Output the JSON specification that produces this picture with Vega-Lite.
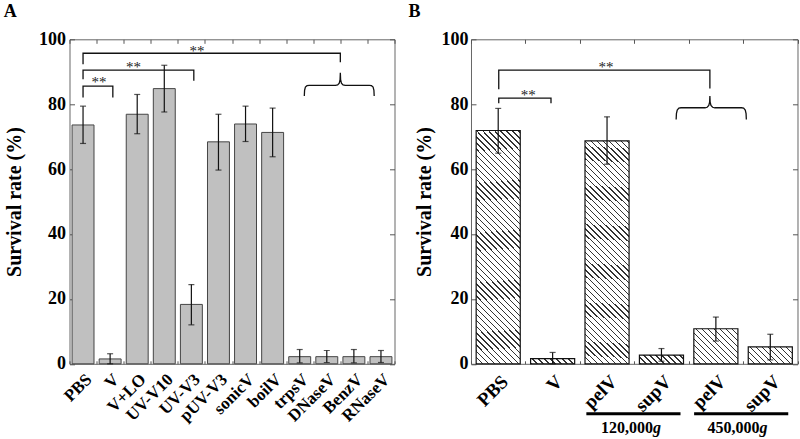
{
"$schema":"https://vega.github.io/schema/vega-lite/v6.json",
"padding":{"left":2.5,"top":2.3,"right":0,"bottom":0},
"spacing":12.5,
"config":{"font":"Liberation Serif","view":{"stroke":"#666","strokeWidth":1},
 "axis":{"labelFont":"Liberation Serif","labelFontWeight":"bold","labelColor":"#000","titleFont":"Liberation Serif","titleFontWeight":"bold","titleColor":"#000","domain":false,"grid":false,"tickColor":"#555","tickWidth":1,"labelOverlap":false},
 "title":{"font":"Liberation Serif","fontWeight":"bold","fontSize":18,"color":"#000","anchor":"start","frame":"group","baseline":"alphabetic","offset":9}
},
"datasets":{
 "A":[{"c":"PBS","v":73.6,"lo":67.9,"hi":79.4},{"c":"V","v":1.5,"lo":0,"hi":3.1},{"c":"V+LO","v":76.9,"lo":70.9,"hi":83.0},{"c":"UV-V10","v":84.8,"lo":77.6,"hi":92.0},{"c":"UV-V3","v":18.3,"lo":12.0,"hi":24.4},{"c":"pUV-V3","v":68.4,"lo":59.7,"hi":76.9},{"c":"sonicV","v":73.9,"lo":68.5,"hi":79.4},{"c":"boilV","v":71.3,"lo":63.8,"hi":78.8},{"c":"trpsV","v":2.2,"lo":0.3,"hi":4.4},{"c":"DNaseV","v":2.2,"lo":0.4,"hi":4.1},{"c":"BenzV","v":2.2,"lo":0.3,"hi":4.4},{"c":"RNaseV","v":2.2,"lo":0.4,"hi":4.1}],
 "B":[{"c":"PBS","v":71.9,"lo":64.9,"hi":78.7},{"c":"V","v":1.6,"lo":0,"hi":3.5},{"c":"pelV1","v":68.7,"lo":61.5,"hi":76.1},{"c":"supV1","v":2.7,"lo":0.8,"hi":4.7},{"c":"pelV2","v":10.8,"lo":7.0,"hi":14.4},{"c":"supV2","v":5.2,"lo":1.2,"hi":9.1}],
 "brA":[
  {"g":"a1","o":0,"x":0.5,"y":82.1},{"g":"a1","o":1,"x":0.5,"y":85.6},{"g":"a1","o":2,"x":1.6,"y":85.6},{"g":"a1","o":3,"x":1.6,"y":82.1},
  {"g":"a2","o":0,"x":0.5,"y":87.7},{"g":"a2","o":1,"x":0.5,"y":90.5},{"g":"a2","o":2,"x":4.59,"y":90.5},{"g":"a2","o":3,"x":4.59,"y":87.2},
  {"g":"a3","o":0,"x":0.5,"y":92.3},{"g":"a3","o":1,"x":0.5,"y":95.7},{"g":"a3","o":2,"x":10.0,"y":95.7},{"g":"a3","o":3,"x":10.0,"y":92.9},
  {"g":"b","o":0,"x":8.67,"y":82.5},{"g":"b","o":1,"x":8.68,"y":84.3},{"g":"b","o":2,"x":8.71,"y":85.3},{"g":"b","o":3,"x":8.77,"y":85.7},{"g":"b","o":4,"x":8.85,"y":85.8},{"g":"b","o":5,"x":9.82,"y":85.8},{"g":"b","o":6,"x":9.9,"y":85.95},{"g":"b","o":7,"x":9.96,"y":86.5},{"g":"b","o":8,"x":9.99,"y":87.6},{"g":"b","o":9,"x":10.0,"y":89.7},{"g":"b","o":10,"x":10.01,"y":87.6},{"g":"b","o":11,"x":10.04,"y":86.5},{"g":"b","o":12,"x":10.1,"y":85.95},{"g":"b","o":13,"x":10.18,"y":85.8},{"g":"b","o":14,"x":11.07,"y":85.8},{"g":"b","o":15,"x":11.15,"y":85.7},{"g":"b","o":16,"x":11.21,"y":85.3},{"g":"b","o":17,"x":11.24,"y":84.3},{"g":"b","o":18,"x":11.25,"y":82.5}],
 "brB":[
  {"g":"a1","o":0,"x":0.51,"y":80.3},{"g":"a1","o":1,"x":0.51,"y":81.9},{"g":"a1","o":2,"x":1.47,"y":81.9},{"g":"a1","o":3,"x":1.47,"y":80.3},
  {"g":"a2","o":0,"x":0.51,"y":84.6},{"g":"a2","o":1,"x":0.51,"y":90.5},{"g":"a2","o":2,"x":4.39,"y":90.5},{"g":"a2","o":3,"x":4.39,"y":84.8},
  {"g":"b","o":0,"x":3.77,"y":75.3},{"g":"b","o":1,"x":3.775,"y":77.1},{"g":"b","o":2,"x":3.79,"y":78.2},{"g":"b","o":3,"x":3.82,"y":78.8},{"g":"b","o":4,"x":3.86,"y":78.9},{"g":"b","o":5,"x":4.3,"y":78.9},{"g":"b","o":6,"x":4.34,"y":79.05},{"g":"b","o":7,"x":4.37,"y":79.6},{"g":"b","o":8,"x":4.385,"y":80.6},{"g":"b","o":9,"x":4.39,"y":82.5},{"g":"b","o":10,"x":4.395,"y":80.6},{"g":"b","o":11,"x":4.41,"y":79.6},{"g":"b","o":12,"x":4.44,"y":79.05},{"g":"b","o":13,"x":4.48,"y":78.9},{"g":"b","o":14,"x":4.97,"y":78.9},{"g":"b","o":15,"x":5.01,"y":78.8},{"g":"b","o":16,"x":5.04,"y":78.2},{"g":"b","o":17,"x":5.055,"y":77.1},{"g":"b","o":18,"x":5.06,"y":75.3}],
 "stA":[{"x":1.09,"y":86.7,"t":"**"},{"x":2.36,"y":91.4,"t":"**"},{"x":4.71,"y":96.3,"t":"**"}],
 "stB":[{"x":1.05,"y":82.9,"t":"**"},{"x":2.48,"y":91.4,"t":"**"}],
 "lines":[{"x":2.12,"x2":3.85,"y":-15.4},{"x":4.1,"x2":5.83,"y":-15.4}],
 "lbl":[{"x":3.345,"y":-21.3,"t":"120,000"},{"x":5.3,"y":-21.3,"t":"450,000"}]
},
"hconcat":[
{
 "width":325,"height":324.5,
 "title":{"text":"A","dx":-65.8},
 "resolve":{"scale":{"x":"independent"},"axis":{"x":"independent","y":"independent"}},
 "layer":[
  {"data":{"name":"A"},"mark":{"type":"bar","width":{"band":0.81},"fill":"#c0c0c0","stroke":"#444","strokeWidth":1},
   "encoding":{
    "x":{"field":"c","type":"nominal","sort":null,"scale":{"type":"band","paddingInner":0,"paddingOuter":0},"axis":{"title":null,"orient":"bottom","labelAngle":-45,"labelAlign":"right","labelBaseline":"top","labelFontSize":17,"labelPadding":10,"tickBand":"extent","tickSize":-3}},
    "y":{"field":"v","type":"quantitative","scale":{"domain":[0,100],"nice":false},"axis":{"title":"Survival rate (%)","titleFontSize":20,"titleX":-45,"titleBaseline":"bottom","labelFontSize":18,"labelPadding":9,"values":[0,20,40,60,80,100],"tickSize":-5}}}},
  {"data":{"name":"A"},"mark":{"type":"bar","opacity":0},
   "encoding":{
    "x":{"field":"c","type":"nominal","sort":null,"scale":{"type":"band","paddingInner":0,"paddingOuter":0},"axis":{"orient":"top","labels":false,"title":null,"tickBand":"extent","tickSize":-4,"minExtent":0}},
    "y":{"field":"v","type":"quantitative","scale":{"domain":[0,100],"nice":false},"axis":{"orient":"right","labels":false,"title":null,"values":[0,20,40,60,80,100],"tickSize":-5,"minExtent":0}}}},
  {"data":{"name":"A"},"mark":{"type":"rule","color":"#111","strokeWidth":1.2},
   "encoding":{"x":{"field":"c","type":"nominal","sort":null,"scale":{"type":"point","padding":0.5},"axis":null},"y":{"field":"lo","type":"quantitative","scale":{"domain":[0,100],"nice":false},"axis":null},"y2":{"field":"hi"}}},
  {"data":{"name":"A"},"mark":{"type":"tick","color":"#111","size":6,"thickness":1.2},
   "encoding":{"x":{"field":"c","type":"nominal","sort":null,"scale":{"type":"point","padding":0.5},"axis":null},"y":{"field":"hi","type":"quantitative","scale":{"domain":[0,100],"nice":false},"axis":null}}},
  {"data":{"name":"A"},"mark":{"type":"tick","color":"#111","size":6,"thickness":1.2},
   "encoding":{"x":{"field":"c","type":"nominal","sort":null,"scale":{"type":"point","padding":0.5},"axis":null},"y":{"field":"lo","type":"quantitative","scale":{"domain":[0,100],"nice":false},"axis":null}}},
  {"data":{"name":"brA"},"mark":{"type":"line","color":"#111","strokeWidth":1.3,"interpolate":"linear"},
   "encoding":{"x":{"field":"x","type":"quantitative","scale":{"domain":[0,12],"nice":false,"zero":false},"axis":null},"y":{"field":"y","type":"quantitative","scale":{"domain":[0,100],"nice":false},"axis":null},"detail":{"field":"g"},"order":{"field":"o"}}},
  {"data":{"name":"stA"},"mark":{"type":"text","font":"Liberation Serif","fontSize":15,"fill":"#222","baseline":"middle","align":"center"},
   "encoding":{"x":{"field":"x","type":"quantitative","scale":{"domain":[0,12],"nice":false,"zero":false},"axis":null},"y":{"field":"y","type":"quantitative","scale":{"domain":[0,100],"nice":false},"axis":null},"text":{"field":"t"}}}
 ]
},
{
 "width":326.5,"height":324.5,
 "title":{"text":"B","dx":-62.4},
 "resolve":{"scale":{"x":"independent"},"axis":{"x":"independent","y":"independent"}},
 "layer":[
  {"data":{"name":"B"},"mark":{"type":"bar","width":{"band":0.81},"stroke":"#111","strokeWidth":1.2},
   "encoding":{
    "x":{"field":"c","type":"nominal","sort":null,"scale":{"type":"band","paddingInner":0,"paddingOuter":0},"axis":{"title":null,"orient":"bottom","labelAngle":-45,"labelAlign":"right","labelBaseline":"top","labelFontSize":19,"labelPadding":11,"tickBand":"extent","tickSize":-3,"labelExpr":"slice(datum.label,0,4)"}},
    "y":{"field":"v","type":"quantitative","scale":{"domain":[0,100],"nice":false},"axis":{"title":"Survival rate (%)","titleFontSize":20,"titleX":-36.7,"titleBaseline":"bottom","labelFontSize":18,"labelPadding":8,"values":[0,20,40,60,80,100],"tickSize":-5}},
    "fill":{"condition":[
     {"test":"datum.c==='V'","value":{"gradient":"linear","x1":0,"y1":1,"x2":1.103,"y2":0.87,"stops":[{"offset":0,"color":"#333"},{"offset":0.028,"color":"#333"},{"offset":0.028,"color":"#fff"},{"offset":0.122,"color":"#fff"},{"offset":0.122,"color":"#333"},{"offset":0.15,"color":"#333"},{"offset":0.15,"color":"#fff"},{"offset":0.244,"color":"#fff"},{"offset":0.244,"color":"#333"},{"offset":0.272,"color":"#333"},{"offset":0.272,"color":"#fff"},{"offset":0.366,"color":"#fff"},{"offset":0.366,"color":"#333"},{"offset":0.394,"color":"#333"},{"offset":0.394,"color":"#fff"},{"offset":0.488,"color":"#fff"},{"offset":0.488,"color":"#333"},{"offset":0.516,"color":"#333"},{"offset":0.516,"color":"#fff"},{"offset":0.61,"color":"#fff"},{"offset":0.61,"color":"#333"},{"offset":0.638,"color":"#333"},{"offset":0.638,"color":"#fff"},{"offset":0.732,"color":"#fff"},{"offset":0.732,"color":"#333"},{"offset":0.76,"color":"#333"},{"offset":0.76,"color":"#fff"},{"offset":0.854,"color":"#fff"},{"offset":0.854,"color":"#333"},{"offset":0.882,"color":"#333"},{"offset":0.882,"color":"#fff"},{"offset":0.976,"color":"#fff"},{"offset":0.976,"color":"#333"},{"offset":1,"color":"#333"}]}},
     {"test":"datum.c==='supV1'","value":{"gradient":"linear","x1":0,"y1":1,"x2":1.154,"y2":0.769,"stops":[{"offset":0,"color":"#333"},{"offset":0.027,"color":"#333"},{"offset":0.027,"color":"#fff"},{"offset":0.114,"color":"#fff"},{"offset":0.114,"color":"#333"},{"offset":0.141,"color":"#333"},{"offset":0.141,"color":"#fff"},{"offset":0.228,"color":"#fff"},{"offset":0.228,"color":"#333"},{"offset":0.255,"color":"#333"},{"offset":0.255,"color":"#fff"},{"offset":0.342,"color":"#fff"},{"offset":0.342,"color":"#333"},{"offset":0.369,"color":"#333"},{"offset":0.369,"color":"#fff"},{"offset":0.456,"color":"#fff"},{"offset":0.456,"color":"#333"},{"offset":0.483,"color":"#333"},{"offset":0.483,"color":"#fff"},{"offset":0.57,"color":"#fff"},{"offset":0.57,"color":"#333"},{"offset":0.597,"color":"#333"},{"offset":0.597,"color":"#fff"},{"offset":0.684,"color":"#fff"},{"offset":0.684,"color":"#333"},{"offset":0.711,"color":"#333"},{"offset":0.711,"color":"#fff"},{"offset":0.798,"color":"#fff"},{"offset":0.798,"color":"#333"},{"offset":0.825,"color":"#333"},{"offset":0.825,"color":"#fff"},{"offset":0.912,"color":"#fff"},{"offset":0.912,"color":"#333"},{"offset":0.939,"color":"#333"},{"offset":0.939,"color":"#fff"},{"offset":1,"color":"#fff"}]}},
     {"test":"datum.c==='pelV2'","value":{"gradient":"linear","x1":0,"y1":1,"x2":1.1,"y2":0.125,"stops":[{"offset":0,"color":"#333"},{"offset":0.018,"color":"#333"},{"offset":0.018,"color":"#fff"},{"offset":0.076,"color":"#fff"},{"offset":0.076,"color":"#333"},{"offset":0.094,"color":"#333"},{"offset":0.094,"color":"#fff"},{"offset":0.152,"color":"#fff"},{"offset":0.152,"color":"#333"},{"offset":0.17,"color":"#333"},{"offset":0.17,"color":"#fff"},{"offset":0.228,"color":"#fff"},{"offset":0.228,"color":"#333"},{"offset":0.246,"color":"#333"},{"offset":0.246,"color":"#fff"},{"offset":0.304,"color":"#fff"},{"offset":0.304,"color":"#333"},{"offset":0.322,"color":"#333"},{"offset":0.322,"color":"#fff"},{"offset":0.38,"color":"#fff"},{"offset":0.38,"color":"#333"},{"offset":0.398,"color":"#333"},{"offset":0.398,"color":"#fff"},{"offset":0.456,"color":"#fff"},{"offset":0.456,"color":"#333"},{"offset":0.474,"color":"#333"},{"offset":0.474,"color":"#fff"},{"offset":0.532,"color":"#fff"},{"offset":0.532,"color":"#333"},{"offset":0.55,"color":"#333"},{"offset":0.55,"color":"#fff"},{"offset":0.608,"color":"#fff"},{"offset":0.608,"color":"#333"},{"offset":0.626,"color":"#333"},{"offset":0.626,"color":"#fff"},{"offset":0.684,"color":"#fff"},{"offset":0.684,"color":"#333"},{"offset":0.702,"color":"#333"},{"offset":0.702,"color":"#fff"},{"offset":0.76,"color":"#fff"},{"offset":0.76,"color":"#333"},{"offset":0.778,"color":"#333"},{"offset":0.778,"color":"#fff"},{"offset":0.836,"color":"#fff"},{"offset":0.836,"color":"#333"},{"offset":0.854,"color":"#333"},{"offset":0.854,"color":"#fff"},{"offset":0.912,"color":"#fff"},{"offset":0.912,"color":"#333"},{"offset":0.93,"color":"#333"},{"offset":0.93,"color":"#fff"},{"offset":0.988,"color":"#fff"},{"offset":0.988,"color":"#333"},{"offset":1,"color":"#333"}]}},
     {"test":"datum.c==='supV2'","value":{"gradient":"linear","x1":0,"y1":1,"x2":1.206,"y2":0.537,"stops":[{"offset":0,"color":"#333"},{"offset":0.023,"color":"#333"},{"offset":0.023,"color":"#fff"},{"offset":0.098,"color":"#fff"},{"offset":0.098,"color":"#333"},{"offset":0.121,"color":"#333"},{"offset":0.121,"color":"#fff"},{"offset":0.196,"color":"#fff"},{"offset":0.196,"color":"#333"},{"offset":0.219,"color":"#333"},{"offset":0.219,"color":"#fff"},{"offset":0.294,"color":"#fff"},{"offset":0.294,"color":"#333"},{"offset":0.317,"color":"#333"},{"offset":0.317,"color":"#fff"},{"offset":0.392,"color":"#fff"},{"offset":0.392,"color":"#333"},{"offset":0.415,"color":"#333"},{"offset":0.415,"color":"#fff"},{"offset":0.49,"color":"#fff"},{"offset":0.49,"color":"#333"},{"offset":0.513,"color":"#333"},{"offset":0.513,"color":"#fff"},{"offset":0.588,"color":"#fff"},{"offset":0.588,"color":"#333"},{"offset":0.611,"color":"#333"},{"offset":0.611,"color":"#fff"},{"offset":0.686,"color":"#fff"},{"offset":0.686,"color":"#333"},{"offset":0.709,"color":"#333"},{"offset":0.709,"color":"#fff"},{"offset":0.784,"color":"#fff"},{"offset":0.784,"color":"#333"},{"offset":0.807,"color":"#333"},{"offset":0.807,"color":"#fff"},{"offset":0.882,"color":"#fff"},{"offset":0.882,"color":"#333"},{"offset":0.905,"color":"#333"},{"offset":0.905,"color":"#fff"},{"offset":0.98,"color":"#fff"},{"offset":0.98,"color":"#333"},{"offset":1,"color":"#333"}]}}
    ],
    "value":{"gradient":"linear","x1":0,"y1":1,"x2":0.222,"y2":-0.15,"stops":[{"offset":0,"color":"#333"},{"offset":0.005,"color":"#333"},{"offset":0.005,"color":"#fff"},{"offset":0.022,"color":"#fff"},
{"offset":0.022,"color":"#333"},{"offset":0.027,"color":"#333"},{"offset":0.027,"color":"#fff"},{"offset":0.044,"color":"#fff"},
{"offset":0.044,"color":"#333"},{"offset":0.049,"color":"#333"},{"offset":0.049,"color":"#fff"},{"offset":0.066,"color":"#fff"},
{"offset":0.066,"color":"#333"},{"offset":0.071,"color":"#333"},{"offset":0.071,"color":"#fff"},{"offset":0.088,"color":"#fff"},
{"offset":0.088,"color":"#333"},{"offset":0.093,"color":"#333"},{"offset":0.093,"color":"#fff"},{"offset":0.11,"color":"#fff"},
{"offset":0.11,"color":"#333"},{"offset":0.115,"color":"#333"},{"offset":0.115,"color":"#fff"},{"offset":0.132,"color":"#fff"},
{"offset":0.132,"color":"#333"},{"offset":0.137,"color":"#333"},{"offset":0.137,"color":"#fff"},{"offset":0.154,"color":"#fff"},
{"offset":0.154,"color":"#333"},{"offset":0.159,"color":"#333"},{"offset":0.159,"color":"#fff"},{"offset":0.176,"color":"#fff"},
{"offset":0.176,"color":"#333"},{"offset":0.181,"color":"#333"},{"offset":0.181,"color":"#fff"},{"offset":0.198,"color":"#fff"},
{"offset":0.198,"color":"#333"},{"offset":0.203,"color":"#333"},{"offset":0.203,"color":"#fff"},{"offset":0.22,"color":"#fff"},
{"offset":0.22,"color":"#333"},{"offset":0.225,"color":"#333"},{"offset":0.225,"color":"#fff"},{"offset":0.242,"color":"#fff"},
{"offset":0.242,"color":"#333"},{"offset":0.247,"color":"#333"},{"offset":0.247,"color":"#fff"},{"offset":0.264,"color":"#fff"},
{"offset":0.264,"color":"#333"},{"offset":0.269,"color":"#333"},{"offset":0.269,"color":"#fff"},{"offset":0.286,"color":"#fff"},
{"offset":0.286,"color":"#333"},{"offset":0.291,"color":"#333"},{"offset":0.291,"color":"#fff"},{"offset":0.308,"color":"#fff"},
{"offset":0.308,"color":"#333"},{"offset":0.313,"color":"#333"},{"offset":0.313,"color":"#fff"},{"offset":0.33,"color":"#fff"},
{"offset":0.33,"color":"#333"},{"offset":0.335,"color":"#333"},{"offset":0.335,"color":"#fff"},{"offset":0.352,"color":"#fff"},
{"offset":0.352,"color":"#333"},{"offset":0.357,"color":"#333"},{"offset":0.357,"color":"#fff"},{"offset":0.374,"color":"#fff"},
{"offset":0.374,"color":"#333"},{"offset":0.379,"color":"#333"},{"offset":0.379,"color":"#fff"},{"offset":0.396,"color":"#fff"},
{"offset":0.396,"color":"#333"},{"offset":0.401,"color":"#333"},{"offset":0.401,"color":"#fff"},{"offset":0.418,"color":"#fff"},
{"offset":0.418,"color":"#333"},{"offset":0.423,"color":"#333"},{"offset":0.423,"color":"#fff"},{"offset":0.44,"color":"#fff"},
{"offset":0.44,"color":"#333"},{"offset":0.445,"color":"#333"},{"offset":0.445,"color":"#fff"},{"offset":0.462,"color":"#fff"},
{"offset":0.462,"color":"#333"},{"offset":0.467,"color":"#333"},{"offset":0.467,"color":"#fff"},{"offset":0.484,"color":"#fff"},
{"offset":0.484,"color":"#333"},{"offset":0.489,"color":"#333"},{"offset":0.489,"color":"#fff"},{"offset":0.506,"color":"#fff"},
{"offset":0.506,"color":"#333"},{"offset":0.511,"color":"#333"},{"offset":0.511,"color":"#fff"},{"offset":0.528,"color":"#fff"},
{"offset":0.528,"color":"#333"},{"offset":0.533,"color":"#333"},{"offset":0.533,"color":"#fff"},{"offset":0.55,"color":"#fff"},
{"offset":0.55,"color":"#333"},{"offset":0.555,"color":"#333"},{"offset":0.555,"color":"#fff"},{"offset":0.572,"color":"#fff"},
{"offset":0.572,"color":"#333"},{"offset":0.577,"color":"#333"},{"offset":0.577,"color":"#fff"},{"offset":0.594,"color":"#fff"},
{"offset":0.594,"color":"#333"},{"offset":0.599,"color":"#333"},{"offset":0.599,"color":"#fff"},{"offset":0.616,"color":"#fff"},
{"offset":0.616,"color":"#333"},{"offset":0.621,"color":"#333"},{"offset":0.621,"color":"#fff"},{"offset":0.638,"color":"#fff"},
{"offset":0.638,"color":"#333"},{"offset":0.643,"color":"#333"},{"offset":0.643,"color":"#fff"},{"offset":0.66,"color":"#fff"},
{"offset":0.66,"color":"#333"},{"offset":0.665,"color":"#333"},{"offset":0.665,"color":"#fff"},{"offset":0.682,"color":"#fff"},
{"offset":0.682,"color":"#333"},{"offset":0.687,"color":"#333"},{"offset":0.687,"color":"#fff"},{"offset":0.704,"color":"#fff"},
{"offset":0.704,"color":"#333"},{"offset":0.709,"color":"#333"},{"offset":0.709,"color":"#fff"},{"offset":0.726,"color":"#fff"},
{"offset":0.726,"color":"#333"},{"offset":0.731,"color":"#333"},{"offset":0.731,"color":"#fff"},{"offset":0.748,"color":"#fff"},
{"offset":0.748,"color":"#333"},{"offset":0.753,"color":"#333"},{"offset":0.753,"color":"#fff"},{"offset":0.77,"color":"#fff"},
{"offset":0.77,"color":"#333"},{"offset":0.775,"color":"#333"},{"offset":0.775,"color":"#fff"},{"offset":0.792,"color":"#fff"},
{"offset":0.792,"color":"#333"},{"offset":0.797,"color":"#333"},{"offset":0.797,"color":"#fff"},{"offset":0.814,"color":"#fff"},
{"offset":0.814,"color":"#333"},{"offset":0.819,"color":"#333"},{"offset":0.819,"color":"#fff"},{"offset":0.836,"color":"#fff"},
{"offset":0.836,"color":"#333"},{"offset":0.841,"color":"#333"},{"offset":0.841,"color":"#fff"},{"offset":0.858,"color":"#fff"},
{"offset":0.858,"color":"#333"},{"offset":0.863,"color":"#333"},{"offset":0.863,"color":"#fff"},{"offset":0.88,"color":"#fff"},
{"offset":0.88,"color":"#333"},{"offset":0.885,"color":"#333"},{"offset":0.885,"color":"#fff"},{"offset":0.902,"color":"#fff"},
{"offset":0.902,"color":"#333"},{"offset":0.907,"color":"#333"},{"offset":0.907,"color":"#fff"},{"offset":0.924,"color":"#fff"},
{"offset":0.924,"color":"#333"},{"offset":0.929,"color":"#333"},{"offset":0.929,"color":"#fff"},{"offset":0.946,"color":"#fff"},
{"offset":0.946,"color":"#333"},{"offset":0.951,"color":"#333"},{"offset":0.951,"color":"#fff"},{"offset":0.968,"color":"#fff"},
{"offset":0.968,"color":"#333"},{"offset":0.973,"color":"#333"},{"offset":0.973,"color":"#fff"},{"offset":0.99,"color":"#fff"},
{"offset":0.99,"color":"#333"},{"offset":0.995,"color":"#333"},{"offset":0.995,"color":"#fff"},{"offset":1,"color":"#fff"}]}}
   }},
  {"data":{"name":"B"},"mark":{"type":"bar","opacity":0},
   "encoding":{
    "x":{"field":"c","type":"nominal","sort":null,"scale":{"type":"band","paddingInner":0,"paddingOuter":0},"axis":{"orient":"top","labels":false,"title":null,"tickBand":"extent","tickSize":-4,"minExtent":0}},
    "y":{"field":"v","type":"quantitative","scale":{"domain":[0,100],"nice":false},"axis":{"orient":"right","labels":false,"title":null,"values":[0,20,40,60,80,100],"tickSize":-5,"minExtent":0}}}},
  {"data":{"name":"B"},"mark":{"type":"rule","color":"#111","strokeWidth":1.2},
   "encoding":{"x":{"field":"c","type":"nominal","sort":null,"scale":{"type":"point","padding":0.5},"axis":null},"y":{"field":"lo","type":"quantitative","scale":{"domain":[0,100],"nice":false},"axis":null},"y2":{"field":"hi"}}},
  {"data":{"name":"B"},"mark":{"type":"tick","color":"#111","size":6,"thickness":1.2},
   "encoding":{"x":{"field":"c","type":"nominal","sort":null,"scale":{"type":"point","padding":0.5},"axis":null},"y":{"field":"hi","type":"quantitative","scale":{"domain":[0,100],"nice":false},"axis":null}}},
  {"data":{"name":"B"},"mark":{"type":"tick","color":"#111","size":6,"thickness":1.2},
   "encoding":{"x":{"field":"c","type":"nominal","sort":null,"scale":{"type":"point","padding":0.5},"axis":null},"y":{"field":"lo","type":"quantitative","scale":{"domain":[0,100],"nice":false},"axis":null}}},
  {"data":{"name":"brB"},"mark":{"type":"line","color":"#111","strokeWidth":1.3,"interpolate":"linear"},
   "encoding":{"x":{"field":"x","type":"quantitative","scale":{"domain":[0,6],"nice":false,"zero":false},"axis":null},"y":{"field":"y","type":"quantitative","scale":{"domain":[0,100],"nice":false},"axis":null},"detail":{"field":"g"},"order":{"field":"o"}}},
  {"data":{"name":"stB"},"mark":{"type":"text","font":"Liberation Serif","fontSize":15,"fill":"#222","baseline":"middle","align":"center"},
   "encoding":{"x":{"field":"x","type":"quantitative","scale":{"domain":[0,6],"nice":false,"zero":false},"axis":null},"y":{"field":"y","type":"quantitative","scale":{"domain":[0,100],"nice":false},"axis":null},"text":{"field":"t"}}},
  {"data":{"name":"lines"},"mark":{"type":"rule","color":"#000","strokeWidth":3},
   "encoding":{"x":{"field":"x","type":"quantitative","scale":{"domain":[0,6],"nice":false,"zero":false},"axis":null},"x2":{"field":"x2"},"y":{"field":"y","type":"quantitative","scale":{"domain":[0,100],"nice":false},"axis":null}}},
  {"data":{"name":"lbl"},"mark":{"type":"text","font":"Liberation Serif","fontSize":16,"fontWeight":"bold","align":"right","baseline":"alphabetic","fill":"#000"},
   "encoding":{"x":{"field":"x","type":"quantitative","scale":{"domain":[0,6],"nice":false,"zero":false},"axis":null},"y":{"field":"y","type":"quantitative","scale":{"domain":[0,100],"nice":false},"axis":null},"text":{"field":"t"}}},
  {"data":{"name":"lbl"},"mark":{"type":"text","font":"Liberation Serif","fontSize":16,"fontWeight":"bold","fontStyle":"italic","align":"left","baseline":"alphabetic","fill":"#000"},
   "encoding":{"x":{"field":"x","type":"quantitative","scale":{"domain":[0,6],"nice":false,"zero":false},"axis":null},"y":{"field":"y","type":"quantitative","scale":{"domain":[0,100],"nice":false},"axis":null},"text":{"value":"g"}}}
 ]
}
]
}
